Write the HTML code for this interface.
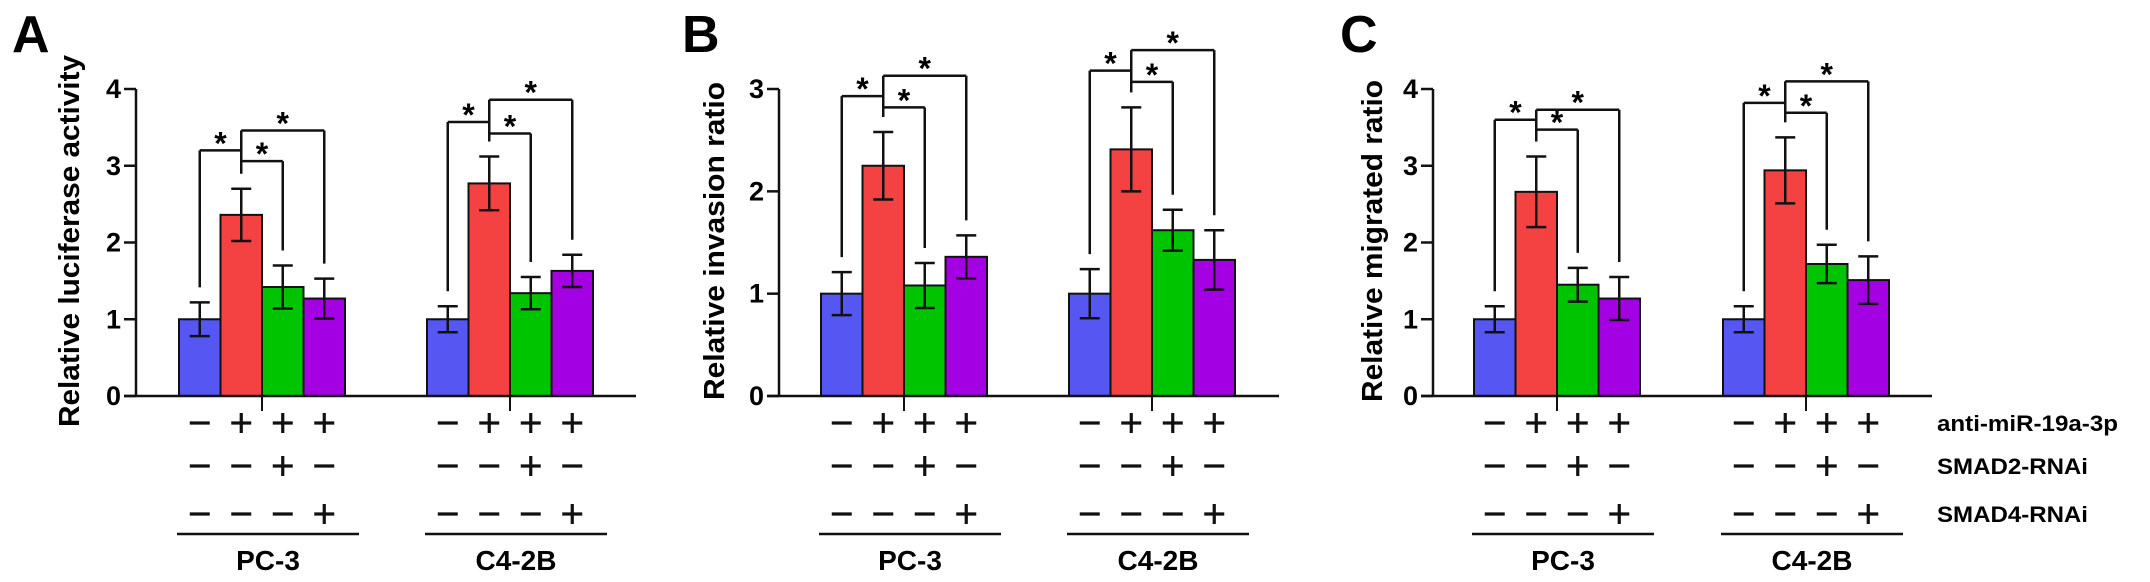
<!DOCTYPE html>
<html><head><meta charset="utf-8"><style>
html,body{margin:0;padding:0;background:#fff;}
svg{display:block;font-family:"Liberation Sans",Arial,sans-serif;font-weight:bold;}
</style></head>
<body>
<svg id="fig" width="2150" height="582" viewBox="0 0 2150 582" xmlns="http://www.w3.org/2000/svg"></svg>
<script>
const groups = ['PC-3', 'C4-2B'];
const treatments = ['control', 'anti-miR', 'anti-miR+SMAD2', 'anti-miR+SMAD4'];
const rowLabels = ['anti-miR-19a-3p', 'SMAD2-RNAi', 'SMAD4-RNAi'];
const rowSigns = [['-','+','+','+'], ['-','-','+','-'], ['-','-','-','+']];

const lucMeans = [[1.0, 2.36, 1.42, 1.27], [1.0, 2.77, 1.34, 1.63]];
const lucErr   = [[0.22, 0.34, 0.28, 0.26], [0.17, 0.35, 0.21, 0.21]];
const lucBr    = [[3.20, 3.06, 3.46], [3.57, 3.42, 3.86]];
const lucTicks = [0, 1, 2, 3, 4];

const invMeans = [[1.0, 2.25, 1.08, 1.36], [1.0, 2.41, 1.62, 1.33]];
const invErr   = [[0.21, 0.33, 0.22, 0.21], [0.24, 0.41, 0.20, 0.29]];
const invBr    = [[2.93, 2.82, 3.13], [3.18, 3.07, 3.38]];
const invTicks = [0, 1, 2, 3];

const migMeans = [[1.0, 2.66, 1.45, 1.27], [1.0, 2.94, 1.72, 1.51]];
const migErr   = [[0.17, 0.46, 0.22, 0.28], [0.17, 0.43, 0.25, 0.31]];
const migBr    = [[3.60, 3.47, 3.73], [3.82, 3.69, 4.10]];
const migTicks = [0, 1, 2, 3, 4];

const colors = ['#5656f2', '#f44242', '#00c400', '#a300e3'];
const NS = 'http://www.w3.org/2000/svg';
const svg = document.getElementById('fig');
const Y0 = 396, YTOP = 89, BW = 41.5;

function mk(tag, attrs, parent, text) {
  const e = document.createElementNS(NS, tag);
  for (const k in attrs) e.setAttribute(k, attrs[k]);
  if (text !== undefined) e.textContent = text;
  (parent || svg).appendChild(e);
  return e;
}
function line(g, x1, y1, x2, y2, w) {
  return mk('line', {x1, y1, x2, y2, stroke: '#111', 'stroke-width': w || 2.5}, g);
}

const panels = [
  {id:'a', letter:'A', lx:12, ax:136, end:636, starts:[179,427], title:'Relative luciferase activity', tx:69, tlen:372, means:lucMeans, err:lucErr, br:lucBr, ticks:lucTicks},
  {id:'b', letter:'B', lx:682, ax:779, end:1279, starts:[821,1069], title:'Relative invasion ratio', tx:714, tlen:318, means:invMeans, err:invErr, br:invBr, ticks:invTicks},
  {id:'c', letter:'C', lx:1340, ax:1433, end:1932, starts:[1474,1723], title:'Relative migrated ratio', tx:1372, tlen:322, means:migMeans, err:migErr, br:migBr, ticks:migTicks}
];

panels.forEach(p => {
  const g = mk('g', {});
  
  
  const ymax = p.ticks[p.ticks.length - 1];
  const y = v => Y0 - v / ymax * (Y0 - YTOP);
  const xc = (gi, ti) => p.starts[gi] + BW * ti + BW / 2;

  const L = mk('text', {x: p.lx, y: 52, 'font-size': 52}, g, p.letter);
  
  

  const T = mk('text', {x: 0, y: 0, 'font-size': 29, 'text-anchor': 'middle', textLength: p.tlen, lengthAdjust: 'spacingAndGlyphs', transform: `translate(${p.tx + 10},${Y0 - 155}) rotate(-90)`}, g, p.title);
  
  

  // axes
  const ya = line(g, p.ax, YTOP, p.ax, Y0, 2.5);
  
  
  p.ticks.forEach(t => {
    line(g, p.ax - 12, y(t), p.ax, y(t), 2.5);
    const tl = mk('text', {x: p.ax - 15, y: y(t) + 9, 'font-size': 27, 'text-anchor': 'end'}, g, String(t));
    
    
  });

  // bars
  groups.forEach((gn, gi) => {
    treatments.forEach((tn, ti) => {
      const v = p.means[gi][ti], e = p.err[gi][ti];
      const x0 = p.starts[gi] + BW * ti;
      const r = mk('rect', {x: x0, y: y(v), width: BW, height: Y0 - y(v), fill: colors[ti], stroke: '#111', 'stroke-width': 2}, g);
      
      
      const cx = x0 + BW / 2;
      const eg = mk('g', {}, g);
      
      
      line(eg, cx, y(v + e), cx, y(v - e), 2.5);
      line(eg, cx - 10, y(v + e), cx + 10, y(v + e), 2.5);
      line(eg, cx - 10, y(v - e), cx + 10, y(v - e), 2.5);
    });
    // separator tick below axis between red & green
    line(g, p.starts[gi] + BW * 2, Y0, p.starts[gi] + BW * 2, Y0 + 15, 2);

    // significance brackets
    const bg = mk('g', {}, g);
    
    
    const tops = p.means[gi].map((m, i) => y(m + p.err[gi][i]) - 15);
    const hb = p.br[gi];
    const redX = xc(gi, 1);
    line(bg, redX, y(Math.max(hb[0], hb[2])), redX, tops[1], 2.5);
    const legs = [0, 2, 3];
    legs.forEach((ti, k) => {
      const hy = y(hb[k]);
      const tx = xc(gi, ti);
      line(bg, tx, hy, redX, hy, 2.5);
      line(bg, tx, hy, tx, tops[ti], 2.5);
      const s = mk('text', {x: (tx + redX) / 2, y: hy + 4, 'font-size': 32, 'text-anchor': 'middle'}, bg, '*');
      
      
    });

    // treatment sign rows
    const rowsY = [423, 466, 514];
    rowSigns.forEach((row, ri) => {
      row.forEach((sg, ti) => {
        const cx = xc(gi, ti), cy = rowsY[ri];
        line(g, cx - 10, cy, cx + 10, cy, 3.2);
        if (sg === '+') line(g, cx, cy - 10, cx, cy + 10, 3.2);
      });
    });
    const ul = line(g, p.starts[gi] - 2, 534, p.starts[gi] + BW * 4 + 14, 534, 2.5);
    
    
    const gl = mk('text', {x: p.starts[gi] + BW * 2 + 6, y: 570, 'font-size': 28, 'text-anchor': 'middle'}, g, gn);
    
    
  });

  const xa = line(g, p.ax - 12, Y0, p.end, Y0, 2.5);
  
  
});

const rl = [[423, 181], [466, 151], [514, 151]];
rowLabels.forEach((t, i) => {
  const e = mk('text', {x: 1937, y: rl[i][0] + 8, 'font-size': 22, textLength: rl[i][1], lengthAdjust: 'spacingAndGlyphs'}, svg, t);
  
  
});
</script>
</body></html>
